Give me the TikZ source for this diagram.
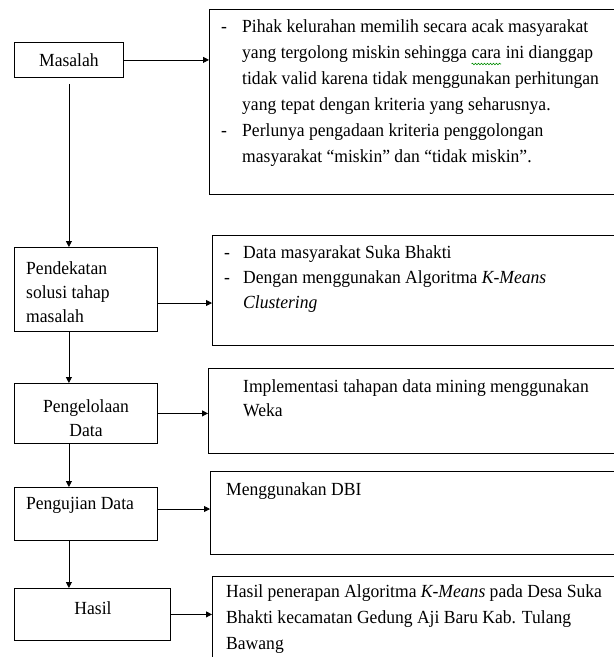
\documentclass[tikz,border=0pt]{standalone}
\usepackage{fontspec}
\setmainfont{Liberation Serif}[FakeStretch=0.95]
\usetikzlibrary{arrows.meta,decorations.pathmorphing}
\newcommand{\fs}{\fontsize{18.5}{26}\selectfont}
\tikzset{
  box/.style={draw, line width=0.8pt, inner sep=0pt, anchor=north west},
  txt/.style={font=\fs, inner sep=0pt, anchor=base west},
  txtc/.style={font=\fs, inner sep=0pt, anchor=base},
  arr/.style={line width=0.8pt, -{Triangle[length=6pt,width=6pt]}},
  squig/.style={draw=green!55!black, line width=0.6pt, decorate,
    decoration={snake, amplitude=0.8pt, segment length=3pt}},
}
\begin{document}
\begin{tikzpicture}[x=1pt, y=-1pt]
\useasboundingbox (0,0) rectangle (614,657);
\clip (0,0) rectangle (614,657);

% left boxes
\node[box, minimum width=109pt, minimum height=35pt, font=\fs] (m) at (14,42) {Masalah};
\node[box, minimum width=143pt, minimum height=84pt] (p) at (14,247) {};
\node[box, minimum width=143pt, minimum height=60pt] (g) at (14,383) {};
\node[box, minimum width=143pt, minimum height=53pt] (u) at (14,487) {};
\node[box, minimum width=156pt, minimum height=52pt] (h) at (14,588) {};

% right boxes
\node[box, minimum width=410pt, minimum height=185pt] (b1) at (209,9) {};
\node[box, minimum width=410pt, minimum height=110pt] (b2) at (212,235) {};
\node[box, minimum width=410pt, minimum height=85pt] (b3) at (208,368) {};
\node[box, minimum width=410pt, minimum height=83pt] (b4) at (210,471) {};
\node[box, minimum width=410pt, minimum height=100pt] (b5) at (212,576) {};

% left texts
\node[txt] (p1) at (26,274) {Pendekatan};
\node[txt] (p2) at (26,298) {solusi tahap};
\node[txt] (p3) at (26,322) {masalah};
\node[txtc] (g1) at (86,412) {Pengelolaan};
\node[txtc] (g2) at (86,436) {Data};
\node[txtc] (u1) at (80,509) {Pengujian Data};
\node[txtc] (h1) at (93,614) {Hasil};

% box 1 text
\node[txt] (d1) at (221,32) {-};
\node[txt] (a1) at (242,32) {Pihak kelurahan memilih secara acak masyarakat};
\node[txt] (a2) at (242,58) {yang tergolong miskin sehingga};
\node[txt] (a2c) at ([xshift=4.4pt]a2.base east) {cara};
\node[txt] (a2d) at ([xshift=4.4pt]a2c.base east) {ini dianggap};
\node[txt] (a3) at (242,84) {tidak valid karena tidak menggunakan perhitungan};
\node[txt] (a4) at (242,110) {yang tepat dengan kriteria yang seharusnya.};
\node[txt] (d2) at (221,136) {-};
\node[txt] (a5) at (242,136) {Perlunya pengadaan kriteria penggolongan};
\node[txt] (a6) at (242,162) {masyarakat “miskin” dan “tidak miskin”.};
\path[squig] ([yshift=-6pt]a2c.base west) -- ([yshift=-6pt]a2c.base east);

% box 2 text
\node[txt] (d3) at (224,258) {-};
\node[txt] (c1) at (243,258) {Data masyarakat Suka Bhakti};
\node[txt] (d4) at (224,283) {-};
\node[txt] (c2) at (243,283) {Dengan menggunakan Algoritma \textit{K-Means}};
\node[txt] (c3) at (243,308) {\textit{Clustering}};

% box 3 text
\node[txt] (e1) at (243,392) {Implementasi tahapan data mining menggunakan};
\node[txt] (e2) at (243,416) {Weka};

% box 4 text
\node[txt] (f1) at (226,495) {Menggunakan DBI};

% box 5 text
\node[txt] (k1) at (226,597) {Hasil penerapan Algoritma \textit{K-Means} pada Desa Suka};
\node[txt] (k2) at (226,623) {Bhakti kecamatan Gedung Aji Baru Kab. Tulang};
\node[txt] (k3) at (226,649) {Bawang};

% horizontal arrows
\draw[arr] (m.east) -- (m.east -| b1.west);
\path ([yshift=-56pt]p.north east) coordinate (pa);
\draw[arr] (pa) -- (pa -| b2.west);
\draw[arr] (g.east) -- (g.east -| b3.west);
\path ([yshift=-22pt]u.north east) coordinate (ua);
\draw[arr] (ua) -- (ua -| b4.west);
\draw[arr] (h.east) -- (h.east -| b5.west);

% vertical arrows
\draw[arr, shorten <=6pt] (m.south) -- (m.south |- p.north);
\draw[arr] (m.south |- p.south) -- (m.south |- g.north);
\draw[arr] (m.south |- g.south) -- (m.south |- u.north);
\draw[arr] (m.south |- u.south) -- (m.south |- h.north);
\end{tikzpicture}
\end{document}
